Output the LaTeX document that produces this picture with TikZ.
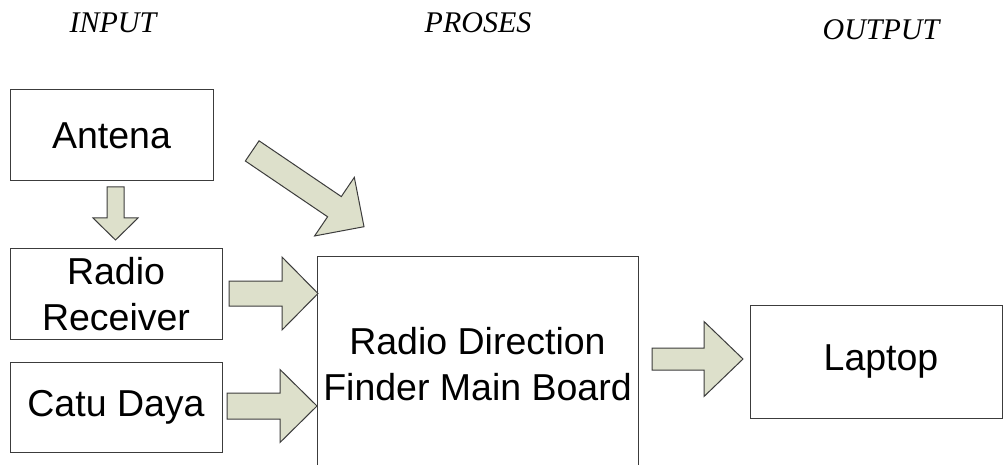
\documentclass[tikz,border=0pt]{standalone}
\usepackage{fontspec}
\setmainfont{Liberation Sans}
\newfontfamily\hdrfont{Liberation Serif}
\usetikzlibrary{calc}
\definecolor{arrowfill}{RGB}{221,224,203}
\definecolor{edgegray}{RGB}{60,60,60}
\tikzset{
  blockbox/.style={draw=edgegray, line width=1pt, inner sep=0pt, align=center,
    font=\fontsize{37.5}{46}\selectfont},
  header/.style={font=\hdrfont\itshape\fontsize{30}{36}\selectfont, inner sep=0pt},
  blockarrow/.style={draw=edgegray, fill=arrowfill, line width=1pt, line join=miter},
}
% #1 start, #2 tip, #3 half shaft width, #4 half head width, #5 head length
\newcommand{\myblockarrow}[5]{%
  \coordinate (#1base) at ($(#2)!#5!(#1)$);
  \draw[blockarrow] ($(#1)!#3!90:(#2)$) -- ($(#1base)!#3!90:(#2)$)
    -- ($(#1base)!#4!90:(#2)$) -- (#2) -- ($(#1base)!#4!-90:(#2)$)
    -- ($(#1base)!#3!-90:(#2)$) -- ($(#1)!#3!-90:(#2)$) -- cycle;
}
\begin{document}
\begin{tikzpicture}[x=1pt,y=-1pt]
\useasboundingbox[fill=white] (0,0) rectangle (1004,465);

% headers
\node[header] (hin)  at (113,23) {INPUT};
\node[header] (hpr)  at (478,23) {PROSES};
\node[header] (hout) at (881,30) {OUTPUT};

% boxes
\node[blockbox, minimum width=203pt, minimum height=91pt] (antena) at (111.5,135.5) {Antena};
\node[blockbox, minimum width=212pt, minimum height=90pt] (receiver) at (116,294) {Radio\\Receiver};
\node[blockbox, minimum width=212pt, minimum height=90pt] (catu) at (116,407) {Catu Daya};
\node[blockbox, minimum width=321pt, minimum height=215pt] (main) at (477.5,364) {Radio Direction\\Finder Main Board};
\node[blockbox, minimum width=252pt, minimum height=113pt] (laptop) at (876,361.5) {\hspace*{10pt}Laptop};

% block arrows
\coordinate (as) at (115.5,187);   \coordinate (ae) at (115.5,240);
\coordinate (ds) at (252.2,150.9); \coordinate (de) at (364,226.7);
\coordinate (rs) at (229,293.5);   \coordinate (re) at (318,293.5);
\coordinate (cs) at (227,406);     \coordinate (ce) at (317,406);
\coordinate (ls) at (652,359);     \coordinate (le) at (743,359);

\myblockarrow{as}{ae}{8.5pt}{22.5pt}{22pt}
\myblockarrow{ds}{de}{12.2pt}{35.4pt}{35.7pt}
\myblockarrow{rs}{re}{12.5pt}{36.5pt}{36pt}
\myblockarrow{cs}{ce}{13pt}{36.5pt}{37pt}
\myblockarrow{ls}{le}{11pt}{37.5pt}{39pt}
\end{tikzpicture}
\end{document}
